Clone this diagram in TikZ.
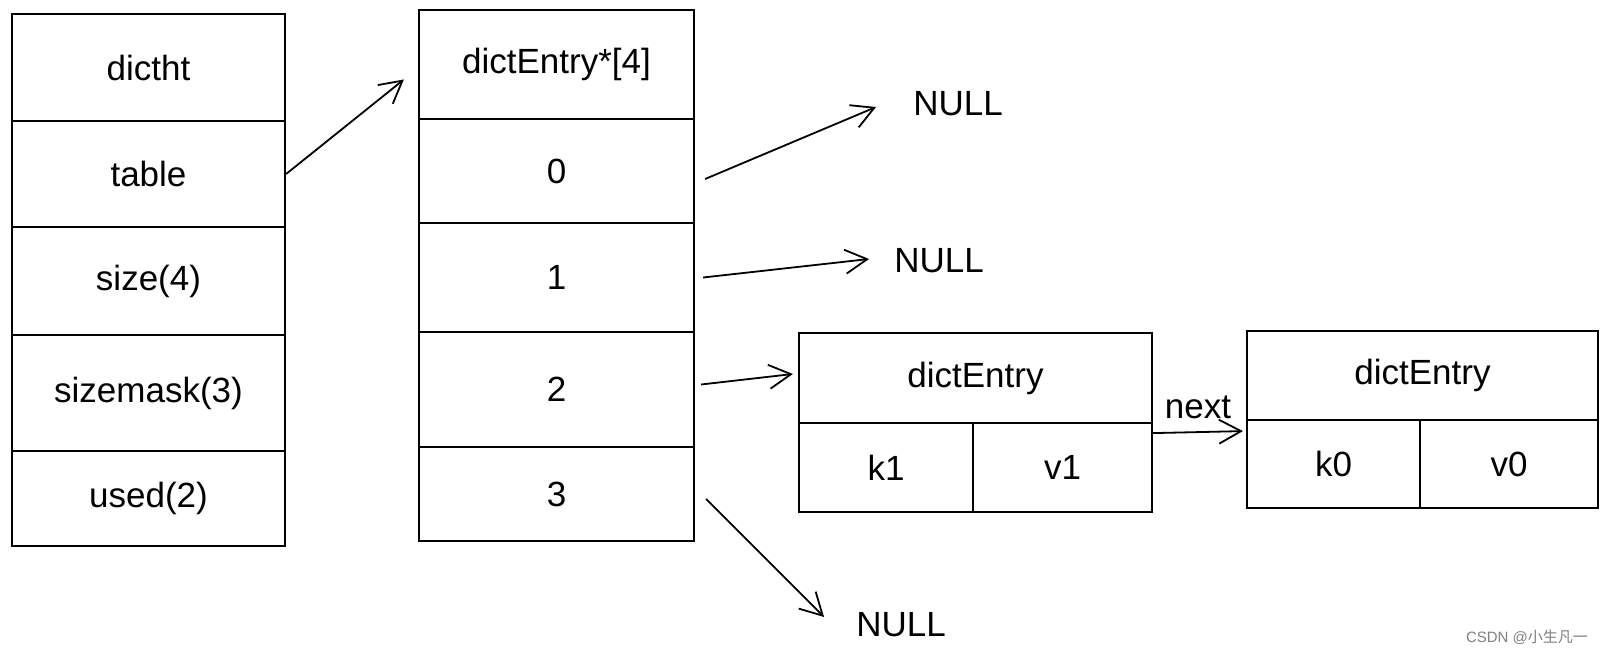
\documentclass[tikz,border=0pt]{standalone}
\usepackage{fontspec}
\setmainfont{Liberation Sans}
\newfontfamily\cjk{Noto Sans CJK SC}
\usetikzlibrary{arrows.meta}

\tikzset{
  cell/.style={draw,line width=2.2pt,inner sep=0pt,font=\fontsize{35}{42}\selectfont},
  lbl/.style={inner sep=0pt,font=\fontsize{35}{42}\selectfont},
  arr/.style={line width=1.8pt,-{Straight Barb[length=22pt,width=24pt,line width=1.8pt]}}
}

\begin{document}
\begin{tikzpicture}[x=1pt,y=-1pt]
\useasboundingbox[fill=white](0,0) rectangle (1606,655);
% dictht
\node[cell,minimum width=273pt,minimum height=107pt](ht) at (148.5,67.5){dictht};
\node[cell,minimum width=273pt,minimum height=106pt](tbl) at (148.5,174){table};
\node[cell,minimum width=273pt,minimum height=108pt](sz) at (148.5,281){size(4)};
\node[cell,minimum width=273pt,minimum height=116pt](szm) at (148.5,393){sizemask(3)};
\node[cell,minimum width=273pt,minimum height=95pt](usd) at (148.5,498.5){used(2)};
% table array
\node[cell,minimum width=275pt,minimum height=109pt](hdr) at (556.5,64.5){dictEntry*[4]};
\node[cell,minimum width=275pt,minimum height=104pt](c0) at (556.5,171){0};
\node[cell,minimum width=275pt,minimum height=109pt](c1) at (556.5,277.5){1};
\node[cell,minimum width=275pt,minimum height=115pt](c2) at (556.5,389.5){2};
\node[cell,minimum width=275pt,minimum height=94pt](c3) at (556.5,494){3};
% entries
\node[cell,minimum width=353pt,minimum height=90pt](e1h) at (975.5,378){dictEntry};
\node[cell,minimum width=174pt,minimum height=89pt](e1k) at (886,467.5){k1};
\node[cell,minimum width=179pt,minimum height=89pt](e1v) at (1062.5,467.5){v1};
\node[cell,minimum width=351pt,minimum height=89pt](e2h) at (1422.5,375.5){dictEntry};
\node[cell,minimum width=173pt,minimum height=88pt](e2k) at (1333.5,464){k0};
\node[cell,minimum width=178pt,minimum height=88pt](e2v) at (1509,464){v0};
% NULLs
\node[lbl](n0) at (958,104){NULL};
\node[lbl](n1) at (939,261){NULL};
\node[lbl](n3) at (901,625){NULL};

\draw[arr](tbl.east)--([xshift=-14pt,yshift=-15pt]hdr.west);
\draw[arr]([xshift=10pt,yshift=-8pt]c0.east)--([xshift=-37pt,yshift=-3pt]n0.west);
\draw[arr]([xshift=8pt]c1.east)--([xshift=-25pt,yshift=2pt]n1.west);
\draw[arr]([xshift=6pt,yshift=5pt]c2.east)--([xshift=-5pt,yshift=4pt]e1h.west);
\draw[arr]([xshift=11pt,yshift=-5pt]c3.east)--([xshift=-32pt,yshift=8pt]n3.west);
\draw[arr]([yshift=-9pt]e1h.south east)--node[lbl,above=12pt]{next}([xshift=-3pt,yshift=-10pt]e2h.south west);

\node[text=gray,font=\fontsize{15}{18}\selectfont](wm) at (1527,637){CSDN @{\cjk 小生凡一}};
\end{tikzpicture}
\end{document}
